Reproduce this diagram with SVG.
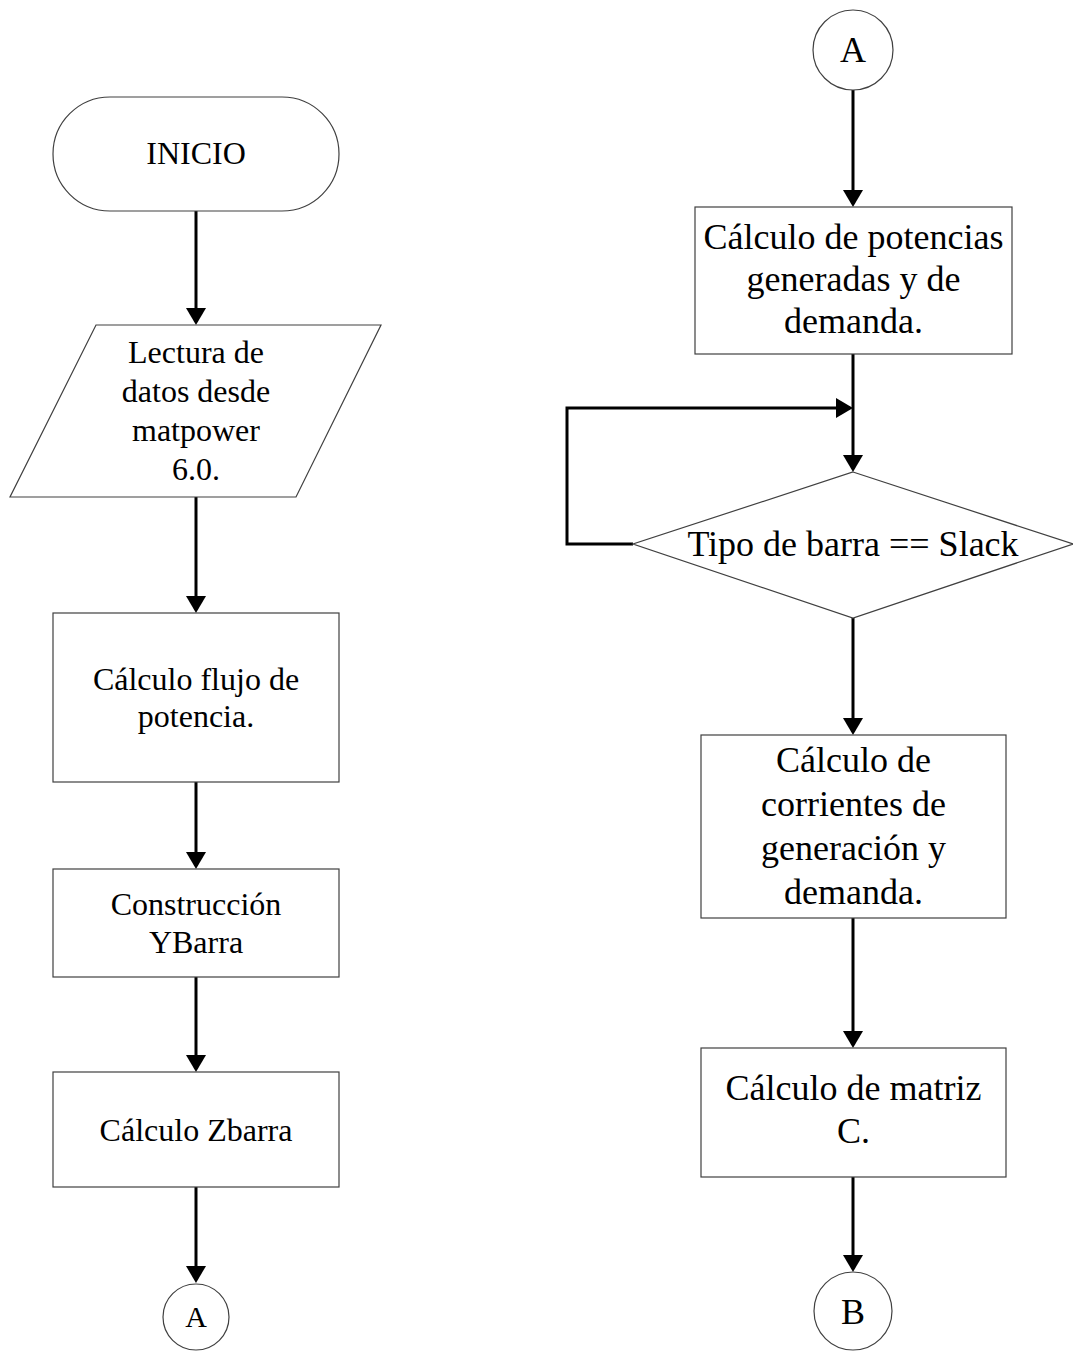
<svg xmlns="http://www.w3.org/2000/svg" width="1073" height="1351" viewBox="0 0 1073 1351">
  <defs>
    <style>
      .shape { fill: #ffffff; stroke: #404040; stroke-width: 1.2; }
      .conn { fill: none; stroke: #000000; stroke-width: 3; }
      text { font-family: "Liberation Serif", "Times New Roman", serif; fill: #000000; text-anchor: middle; }
      .s32 { font-size: 32px; }
      .s36 { font-size: 36px; }
    </style>
    <marker id="arrow" viewBox="0 0 17 20" refX="14" refY="10" markerWidth="17" markerHeight="20" markerUnits="userSpaceOnUse" orient="auto">
      <path d="M0,0 L17,10 L0,20 Z" fill="#000000"/>
    </marker>
  </defs>
  <rect width="1073" height="1351" fill="#ffffff"/>

  <!-- connectors -->
  <g id="connectors">
    <line class="conn" x1="196" y1="211" x2="196" y2="322" marker-end="url(#arrow)"/>
    <line class="conn" x1="196" y1="497" x2="196" y2="610" marker-end="url(#arrow)"/>
    <line class="conn" x1="196" y1="782" x2="196" y2="866" marker-end="url(#arrow)"/>
    <line class="conn" x1="196" y1="977" x2="196" y2="1069" marker-end="url(#arrow)"/>
    <line class="conn" x1="196" y1="1187" x2="196" y2="1280" marker-end="url(#arrow)"/>

    <line class="conn" x1="853" y1="90" x2="853" y2="204" marker-end="url(#arrow)"/>
    <line class="conn" x1="853" y1="354" x2="853" y2="469" marker-end="url(#arrow)"/>
    <path class="conn" d="M633,544 H567 V408 H850" marker-end="url(#arrow)"/>
    <line class="conn" x1="853" y1="618" x2="853" y2="732" marker-end="url(#arrow)"/>
    <line class="conn" x1="853" y1="918" x2="853" y2="1045" marker-end="url(#arrow)"/>
    <line class="conn" x1="853" y1="1177" x2="853" y2="1269" marker-end="url(#arrow)"/>
  </g>

  <!-- left column -->
  <g id="inicio">
    <rect class="shape" x="53" y="97" width="286" height="114" rx="57" ry="57"/>
    <text class="s32" x="196" y="164">INICIO</text>
  </g>
  <g id="lectura">
    <polygon class="shape" points="96,325 381,325 296,497 10,497"/>
    <text class="s32" x="196" y="363">Lectura de</text>
    <text class="s32" x="196" y="402">datos desde</text>
    <text class="s32" x="196" y="441">matpower</text>
    <text class="s32" x="196" y="480">6.0.</text>
  </g>
  <g id="flujo">
    <rect class="shape" x="53" y="613" width="286" height="169"/>
    <text class="s32" x="196" y="690">Cálculo flujo de</text>
    <text class="s32" x="196" y="727">potencia.</text>
  </g>
  <g id="ybarra">
    <rect class="shape" x="53" y="869" width="286" height="108"/>
    <text class="s32" x="196" y="915">Construcción</text>
    <text class="s32" x="196" y="953">YBarra</text>
  </g>
  <g id="zbarra">
    <rect class="shape" x="53" y="1072" width="286" height="115"/>
    <text class="s32" x="196" y="1141">Cálculo Zbarra</text>
  </g>
  <g id="conector-a-salida">
    <circle class="shape" cx="196" cy="1317" r="33"/>
    <text x="196" y="1327" style="font-size:30px">A</text>
  </g>

  <!-- right column -->
  <g id="conector-a-entrada">
    <circle class="shape" cx="853" cy="50" r="40"/>
    <text class="s36" x="853" y="62">A</text>
  </g>
  <g id="potencias">
    <rect class="shape" x="695" y="207" width="317" height="147"/>
    <text class="s36" x="853.5" y="249">Cálculo de potencias</text>
    <text class="s36" x="853.5" y="291">generadas y de</text>
    <text class="s36" x="853.5" y="333">demanda.</text>
  </g>
  <g id="tipo-barra">
    <polygon class="shape" points="853,472 1073,544 853,618 633,544"/>
    <text class="s36" x="853" y="556">Tipo de barra == Slack</text>
  </g>
  <g id="corrientes">
    <rect class="shape" x="701" y="735" width="305" height="183"/>
    <text class="s36" x="853.5" y="772">Cálculo de</text>
    <text class="s36" x="853.5" y="816">corrientes de</text>
    <text class="s36" x="853.5" y="860">generación y</text>
    <text class="s36" x="853.5" y="904">demanda.</text>
  </g>
  <g id="matriz-c">
    <rect class="shape" x="701" y="1048" width="305" height="129"/>
    <text class="s36" x="853.5" y="1100">Cálculo de matriz</text>
    <text class="s36" x="853.5" y="1143">C.</text>
  </g>
  <g id="conector-b">
    <circle class="shape" cx="853" cy="1311" r="39"/>
    <text class="s36" x="853" y="1324">B</text>
  </g>
</svg>
